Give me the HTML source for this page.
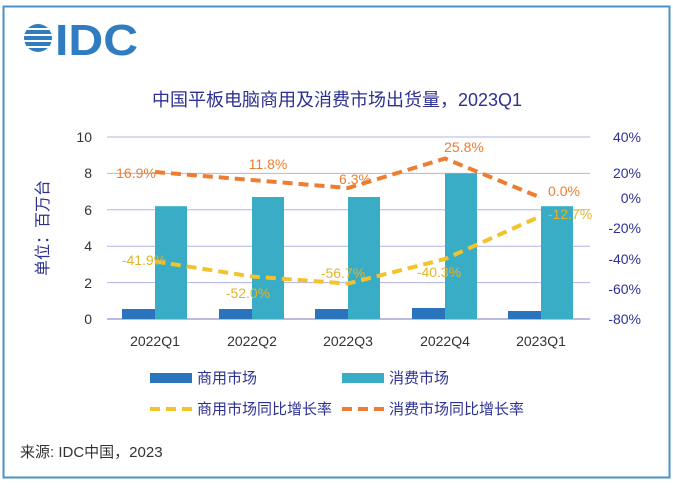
<!DOCTYPE html>
<html><head><meta charset="utf-8"><style>
html,body{margin:0;padding:0;background:#fff;}
body{width:673px;height:483px;overflow:hidden;}
</style></head><body>
<svg width="673" height="483" xmlns="http://www.w3.org/2000/svg" font-family="Liberation Sans, Noto Sans CJK SC, sans-serif">
<rect x="0" y="0" width="673" height="483" fill="#fff"/>
<rect x="3.5" y="6.5" width="666" height="471" fill="#fff" stroke="#4a93c9" stroke-width="2"/>
<defs><clipPath id="g"><circle cx="38" cy="38" r="14"/></clipPath></defs>
<g clip-path="url(#g)" fill="#2f7dc0">
<rect x="20" y="24" width="40" height="4"/>
<rect x="20" y="30" width="40" height="4"/>
<rect x="20" y="36" width="40" height="4"/>
<rect x="20" y="42" width="40" height="4"/>
<rect x="20" y="48" width="40" height="4"/>
</g>
<text x="55" y="55" font-size="44" font-weight="bold" fill="#2f7dc0" textLength="83" lengthAdjust="spacingAndGlyphs">IDC</text>
<text x="337" y="106" font-size="18" fill="#2e3192" text-anchor="middle">中国平板电脑商用及消费市场出货量，2023Q1</text>
<g stroke="#b3b3e6" stroke-width="1">
<line x1="107" y1="137" x2="590" y2="137"/>
<line x1="107" y1="173.4" x2="590" y2="173.4"/>
<line x1="107" y1="209.8" x2="590" y2="209.8"/>
<line x1="107" y1="246.2" x2="590" y2="246.2"/>
<line x1="107" y1="282.6" x2="590" y2="282.6"/>
</g>
<line x1="107" y1="319" x2="590" y2="319" stroke="#a6a6d9" stroke-width="1.5"/>
<g font-size="14" fill="#333" text-anchor="end">
<text x="92" y="142">10</text><text x="92" y="178">8</text><text x="92" y="215">6</text>
<text x="92" y="251">4</text><text x="92" y="288">2</text><text x="92" y="324">0</text>
</g>
<g font-size="14" fill="#2e3192" text-anchor="end">
<text x="641" y="142">40%</text><text x="641" y="178">20%</text><text x="641" y="203">0%</text>
<text x="641" y="233">-20%</text><text x="641" y="264">-40%</text><text x="641" y="294">-60%</text><text x="641" y="324">-80%</text>
</g>
<text transform="translate(48,228) rotate(-90)" font-size="16" fill="#2e3192" text-anchor="middle">单位：百万台</text>
<g fill="#2a74bd">
<rect x="122" y="309" width="33" height="10"/>
<rect x="219" y="309" width="33" height="10"/>
<rect x="315" y="309" width="33" height="10"/>
<rect x="412" y="308" width="33" height="11"/>
<rect x="508" y="311" width="33" height="8"/>
</g>
<g fill="#39acc6">
<rect x="155" y="206.2" width="32" height="112.8"/>
<rect x="252" y="197" width="32" height="122"/>
<rect x="348" y="197" width="32" height="122"/>
<rect x="445" y="173.4" width="32" height="145.6"/>
<rect x="541" y="206.2" width="32" height="112.8"/>
</g>
<polyline points="155,172 252,180 348,188 445,158.5 541,197.7" fill="none" stroke="#ed7d31" stroke-width="4" stroke-dasharray="10,6"/>
<polyline points="155,261.4 252,276.5 348,283.6 445,259 541,216" fill="none" stroke="#f2c32c" stroke-width="4" stroke-dasharray="10,6"/>
<g font-size="14" fill="#ed7d31" text-anchor="middle">
<text x="136" y="178">16.9%</text><text x="268" y="169">11.8%</text><text x="355" y="184">6.3%</text>
<text x="464" y="152">25.8%</text><text x="564" y="196">0.0%</text>
</g>
<g font-size="14" fill="#e2b52a" text-anchor="middle">
<text x="144" y="265">-41.9%</text><text x="248" y="298">-52.0%</text><text x="343" y="278">-56.7%</text>
<text x="439" y="277">-40.3%</text><text x="570" y="219">-12.7%</text>
</g>
<g font-size="14" fill="#333" text-anchor="middle">
<text x="155" y="346">2022Q1</text><text x="252" y="346">2022Q2</text><text x="348" y="346">2022Q3</text>
<text x="445" y="346">2022Q4</text><text x="541" y="346">2023Q1</text>
</g>
<rect x="150" y="373" width="42" height="10" fill="#2a74bd"/>
<text x="197" y="383" font-size="15" fill="#2e3192">商用市场</text>
<rect x="342" y="373" width="42" height="10" fill="#39acc6"/>
<text x="389" y="383" font-size="15" fill="#2e3192">消费市场</text>
<line x1="150" y1="409" x2="192" y2="409" stroke="#f2c32c" stroke-width="4" stroke-dasharray="10,6"/>
<text x="197" y="414" font-size="15" fill="#2e3192">商用市场同比增长率</text>
<line x1="342" y1="409" x2="384" y2="409" stroke="#ed7d31" stroke-width="4" stroke-dasharray="10,6"/>
<text x="389" y="414" font-size="15" fill="#2e3192">消费市场同比增长率</text>
<text x="20" y="457" font-size="15" fill="#333">来源: IDC中国，2023</text>
</svg>
</body></html>
